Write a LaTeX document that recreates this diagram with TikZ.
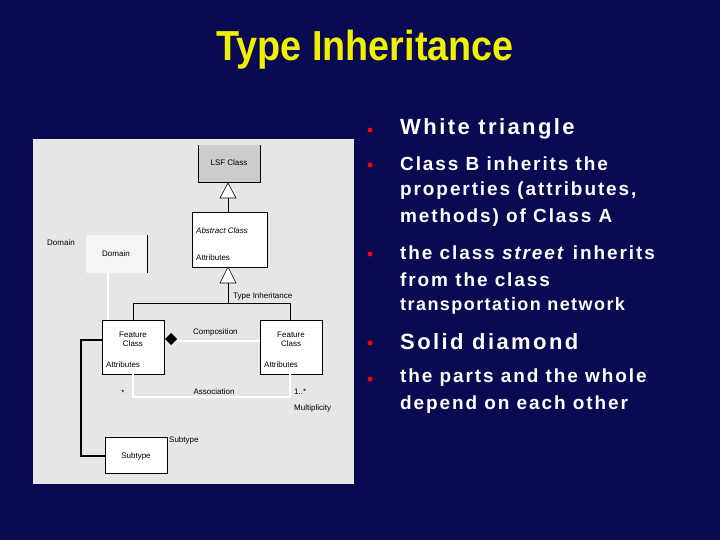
\documentclass[tikz,border=0pt]{standalone}
\usepackage{fontspec}
\setmainfont{Liberation Sans}
\begin{document}
\begin{tikzpicture}[x=1pt,y=-1pt,
  cls/.style={draw=black,fill=white,line width=0.6pt},
  lbl/.style={font=\fontsize{8}{9}\selectfont,text=black,inner sep=0pt},
  light/.style={draw=white,line width=1.2pt},
  bul/.style={anchor=west,text=white,font=\bfseries\fontsize{19}{22}\selectfont\addfontfeature{LetterSpace=10},inner sep=0pt},
  big/.style={anchor=west,text=white,font=\bfseries\fontsize{22}{26}\selectfont\addfontfeature{LetterSpace=11},inner sep=0pt},
  small/.style={anchor=west,text=white,font=\bfseries\fontsize{18}{21}\selectfont\addfontfeature{LetterSpace=8},inner sep=0pt},
  dot/.style={fill=red,draw=none,circle,minimum size=5pt,inner sep=0pt}]
\definecolor{navy}{HTML}{0A0A52}
\definecolor{panel}{HTML}{E6E6E6}
\definecolor{lsf}{HTML}{CCCCCC}
\definecolor{ttl}{HTML}{F0F000}
\fill[navy] (0,0) rectangle (720,540);
\useasboundingbox (0,0) rectangle (720,540);
\node[text=ttl,font=\bfseries\fontsize{42}{48}\selectfont] (title) at (365,50) {\scalebox{0.9}[1]{Type Inheritance}};
% panel
\fill[panel] (33,139) rectangle (354,484);
% boxes
\fill[lsf] (198,145) rectangle (260,182);
\draw[line width=0.6pt] (260,145) -- (260,182) -- (198,182) -- (198,145);
\node[lbl] (lsf) at (229,163) {LSF Class};
\draw[line width=0.6pt] (228,198) -- (228,212);
\draw[fill=white,line width=0.6pt] (228,183) -- (236,198) -- (220,198) -- cycle;
\draw[cls] (192,212) rectangle (267,267);
\node[lbl,anchor=west,font=\itshape\fontsize{8}{9}\selectfont] (abs) at (196,231) {Abstract Class};
\node[lbl,anchor=west] (absattr) at (196,258) {Attributes};
\draw[line width=0.6pt] (228,283) -- (228,303);
\draw[fill=white,line width=0.6pt] (228,267) -- (236,283) -- (220,283) -- cycle;
\node[lbl,anchor=west] (ti) at (233,296) {Type Inheritance};
\draw[line width=1pt] (133,320) -- (133,303) -- (290,303) -- (290,320);
% domain
\fill[white!96!black] (86,235) rectangle (147,273);
\draw[line width=0.6pt] (147,235) -- (147,273);
\node[lbl] (dom) at (116,254) {Domain};
\node[lbl,anchor=west] (domlbl) at (47,243) {Domain};
\draw[light] (108,273) -- (108,320);
% feature classes
\draw[cls] (102,320) rectangle (164,374);
\node[lbl,align=center] (fc1) at (133,339) {Feature\\Class};
\node[lbl,anchor=west] (fa1) at (106,365) {Attributes};
\draw[cls] (260,320) rectangle (322,374);
\node[lbl,align=center] (fc2) at (291,339) {Feature\\Class};
\node[lbl,anchor=west] (fa2) at (264,365) {Attributes};
% composition
\draw[light] (177,341) -- (260,341);
\fill[black] (165,339) -- (171,333) -- (177,339) -- (171,345) -- cycle;
\node[lbl,anchor=west] (comp) at (193,332) {Composition};
% association
\draw[light] (133,374) -- (133,397) -- (290,397) -- (290,374);
\node[lbl] (assoc) at (214,392) {Association};
\node[lbl] (star) at (123,393) {*};
\node[lbl,anchor=west] (mult1) at (294,392) {1..*};
\node[lbl,anchor=west] (mult) at (294,408) {Multiplicity};
% subtype
\draw[cls] (105,437) rectangle (167,473);
\node[lbl] (sub) at (136,456) {Subtype};
\node[lbl,anchor=west] (sublbl) at (169,440) {Subtype};
\draw[line width=1.6pt] (102,340) -- (81,340) -- (81,456) -- (105,456);
% bullets
\node[dot] at (370,130) {}; \node[big] (b1) at (400,129) {White triangle};
\node[dot] at (370,165) {};
\node[bul] (b2) at (400,164) {Class B inherits the};
\node[bul] at (400,191) {properties (attributes,};
\node[bul] at (400,218) {methods) of Class A};
\node[dot] at (370,254) {};
\node[bul] (b3) at (400,253) {the class \textit{street} inherits};
\node[bul] at (400,280) {from the class};
\node[small] at (400,306) {transportation network};
\node[dot] at (370,343) {}; \node[big] (b4) at (400,342) {Solid diamond};
\node[dot] at (370,379) {};
\node[bul] (b5) at (400,378) {the parts and the whole};
\node[bul] at (400,405) {depend on each other};
\end{tikzpicture}
\end{document}
